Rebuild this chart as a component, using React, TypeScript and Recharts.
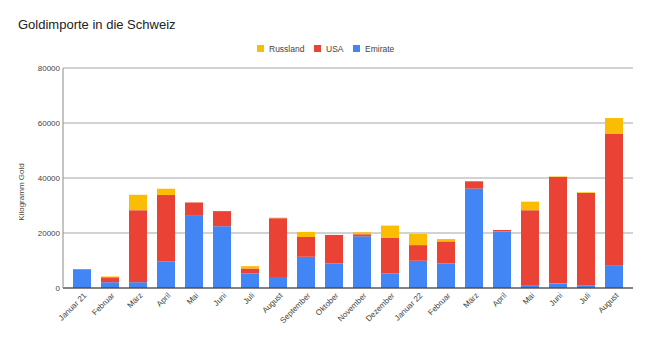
import React from 'react';
import { BarChart, Bar, XAxis, YAxis, CartesianGrid } from 'recharts';

const MONTHS = [
  'Januar 21', 'Februar', 'März', 'April', 'Mai', 'Juni', 'Juli', 'August',
  'September', 'Oktober', 'November', 'Dezember', 'Januar 22', 'Februar',
  'März', 'April', 'Mai', 'Juni', 'Juli', 'August',
];

const EMIRATE = [6700, 2100, 2100, 9650, 26250, 22450, 5250, 4000, 11350, 8900, 18800, 5250, 9900, 8900, 36150, 20500, 850, 1600, 1000, 8300];
const USA = [200, 1800, 26200, 24150, 4850, 5500, 1850, 21400, 7200, 10400, 750, 12950, 5700, 8050, 2650, 600, 27450, 38800, 33550, 47850];
const RUSSLAND = [0, 300, 5600, 2300, 0, 0, 850, 200, 1850, 0, 700, 4500, 4050, 850, 0, 0, 3100, 200, 250, 5650];

const Y_TICKS = [0, 20000, 40000, 60000, 80000];

const SERIES = [
  { key: 'russland', name: 'Russland', color: '#fbbc04' },
  { key: 'usa', name: 'USA', color: '#ea4335' },
  { key: 'emirate', name: 'Emirate', color: '#4285f4' },
];

const FONT = "Arial, 'Liberation Sans', sans-serif";

const data = MONTHS.map((month, i) => ({
  month,
  emirate: EMIRATE[i],
  usa: USA[i],
  russland: RUSSLAND[i],
}));

const MonthTick = ({ x, y, payload }: any) => {
  const ax = x + 5;
  const ay = y + 8;
  return (
    <text
      x={ax}
      y={ay}
      transform={`rotate(-45, ${ax}, ${ay})`}
      textAnchor="end"
      fontSize={8}
      fontFamily={FONT}
      fill="#444"
    >
      {payload.value}
    </text>
  );
};

const LEGEND_X = [257, 314, 353];

export default function App() {
  return (
    <div style={{ position: 'absolute', left: 0, top: 0, width: 650, height: 339, background: '#fff' }}>
      <BarChart
        width={650}
        height={339}
        data={data}
        margin={{ top: 68, right: 17, left: 0, bottom: 0 }}
        barSize={18}
      >
        <CartesianGrid vertical={false} stroke="#a6a6a6" />
        <XAxis
          dataKey="month"
          height={51}
          interval={0}
          padding={{ left: 5, right: 5 }}
          tickLine={false}
          tickSize={0}
          tickMargin={0}
          axisLine={{ stroke: '#333' }}
          tick={<MonthTick />}
        />
        <YAxis
          width={63}
          domain={[0, 80000]}
          ticks={Y_TICKS}
          tickLine={false}
          tickSize={0}
          tickMargin={3}
          axisLine={{ stroke: '#8a8a8a' }}
          tick={{ fontSize: 8, fill: '#444', fontFamily: FONT }}
        />
        <Bar dataKey="emirate" name="Emirate" stackId="a" fill="#4285f4" isAnimationActive={false} />
        <Bar dataKey="usa" name="USA" stackId="a" fill="#ea4335" isAnimationActive={false} />
        <Bar dataKey="russland" name="Russland" stackId="a" fill="#fbbc04" isAnimationActive={false} />
      </BarChart>
      <svg
        width={650}
        height={339}
        style={{ position: 'absolute', left: 0, top: 0, pointerEvents: 'none' }}
      >
        <text x={18} y={29} fontSize={13} fontFamily={FONT} fill="#222">
          Goldimporte in die Schweiz
        </text>
        {SERIES.map((s, i) => (
          <g key={s.key}>
            <rect x={LEGEND_X[i]} y={45} width={7} height={7} fill={s.color} />
            <text x={LEGEND_X[i] + 12} y={51.5} fontSize={8.5} fontFamily={FONT} fill="#444">
              {s.name}
            </text>
          </g>
        ))}
        <text
          x={24}
          y={192}
          transform="rotate(-90, 24, 192)"
          textAnchor="middle"
          fontSize={8}
          fontFamily={FONT}
          fill="#444"
        >
          Kilogramm Gold
        </text>
      </svg>
    </div>
  );
}
